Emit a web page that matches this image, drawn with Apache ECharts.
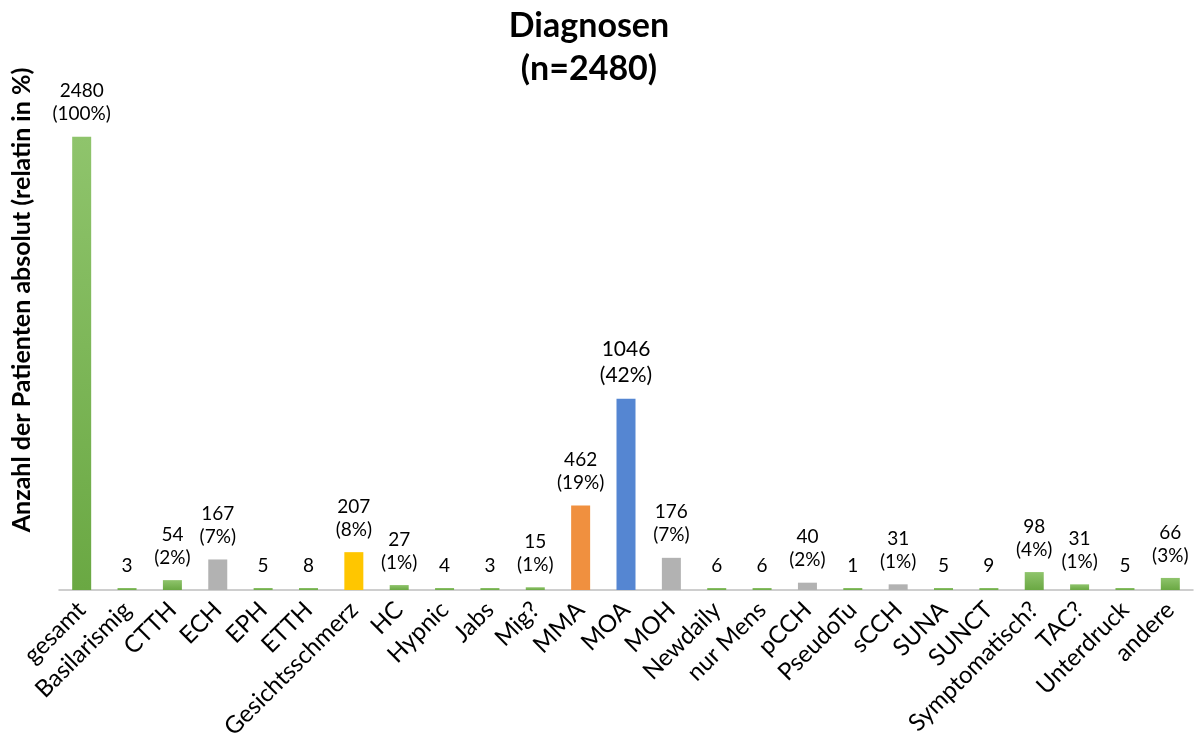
<!DOCTYPE html>
<html>
<head>
<meta charset="utf-8">
<title>Diagnosen</title>
<script src="https://cdn.jsdelivr.net/npm/echarts@6/dist/echarts.min.js"></script>
<style>
  html, body { margin: 0; padding: 0; background: #ffffff; }
  #chart { width: 1196px; height: 753px; }
</style>
</head>
<body>
<div id="chart"></div>
<script>
// Diagnosis categories and patient counts
const categories = ['gesamt', 'Basilarismig', 'CTTH', 'ECH', 'EPH', 'ETTH', 'Gesichtsschmerz', 'HC', 'Hypnic', 'Jabs', 'Mig?', 'MMA', 'MOA', 'MOH', 'Newdaily', 'nur Mens', 'pCCH', 'PseudoTu', 'sCCH', 'SUNA', 'SUNCT', 'Symptomatisch?', 'TAC?', 'Unterdruck', 'andere'];
const counts = [2480, 3, 54, 167, 5, 8, 207, 27, 4, 3, 15, 462, 1046, 176, 6, 6, 40, 1, 31, 5, 9, 98, 31, 5, 66];
// Share of all patients as printed under each count (null = not printed)
const percents = [100, null, 2, 7, null, null, 8, 1, null, null, 1, 19, 42, 7, null, null, 2, null, 1, null, null, 4, 1, null, 3];
// Colour group of each bar
const groups = ['green', 'green', 'green', 'gray', 'green', 'green', 'yellow', 'green', 'green', 'green', 'green', 'orange', 'blue', 'gray', 'green', 'green', 'gray', 'green', 'gray', 'green', 'green', 'green', 'green', 'green', 'green'];
const yTitle = 'Anzahl der Patienten absolut (relatin in %)';

const palette = {
  green: new echarts.graphic.LinearGradient(0, 0, 0, 1, [
    { offset: 0, color: '#8fc46c' },
    { offset: 1, color: '#6aa843' }
  ]),
  gray: '#b2b2b2',
  yellow: '#ffc600',
  orange: '#f0903f',
  blue: '#5586d2'
};

const barData = counts.map((v, i) => {
  const big = categories[i] === 'MOA';
  return {
    value: v,
    itemStyle: { color: palette[groups[i]] },
    label: {
      fontSize: big ? 21 : 19,
      lineHeight: big ? 26 : 23
    }
  };
});

const chart = echarts.init(document.getElementById('chart'), null, { renderer: 'canvas' });
chart.setOption({
  animation: false,
  backgroundColor: '#ffffff',
  title: {
    text: 'Diagnosen\n(n=2480)',
    left: 584,
    top: 0,
    textAlign: 'center',
    textStyle: {
      fontFamily: 'Lato',
      fontWeight: 'bold',
      fontSize: 34,
      lineHeight: 43,
      color: '#000000'
    }
  },
  graphic: [{
    type: 'text',
    x: 22,
    y: 300,
    rotation: Math.PI / 2,
    style: {
      text: yTitle,
      fontFamily: 'Lato',
      fontWeight: 'bold',
      fontSize: 25,
      fill: '#000000',
      align: 'center',
      verticalAlign: 'middle'
    }
  }],
  grid: { left: 59, right: 3, top: 133, bottom: 163, containLabel: false },
  xAxis: {
    type: 'category',
    data: categories,
    axisLine: { lineStyle: { color: '#bfbfbf', width: 1.5 } },
    axisTick: { show: false },
    axisLabel: {
      interval: 0,
      rotate: 45,
      margin: 16,
      fontFamily: 'Lato',
      fontSize: 24,
      color: '#000000'
    }
  },
  yAxis: {
    type: 'value',
    min: 0,
    max: 2500,
    axisLine: { show: false },
    axisTick: { show: false },
    axisLabel: { show: false },
    splitLine: { show: false }
  },
  series: [{
    type: 'bar',
    data: barData,
    barWidth: 19,
    barMinHeight: 2,
    label: {
      show: true,
      position: 'top',
      distance: 11,
      fontFamily: 'Lato',
      color: '#000000',
      formatter: p => {
        const pc = percents[p.dataIndex];
        return pc == null ? String(p.value) : p.value + '\n(' + pc + '%)';
      }
    }
  }]
});
</script>
</body>
</html>
